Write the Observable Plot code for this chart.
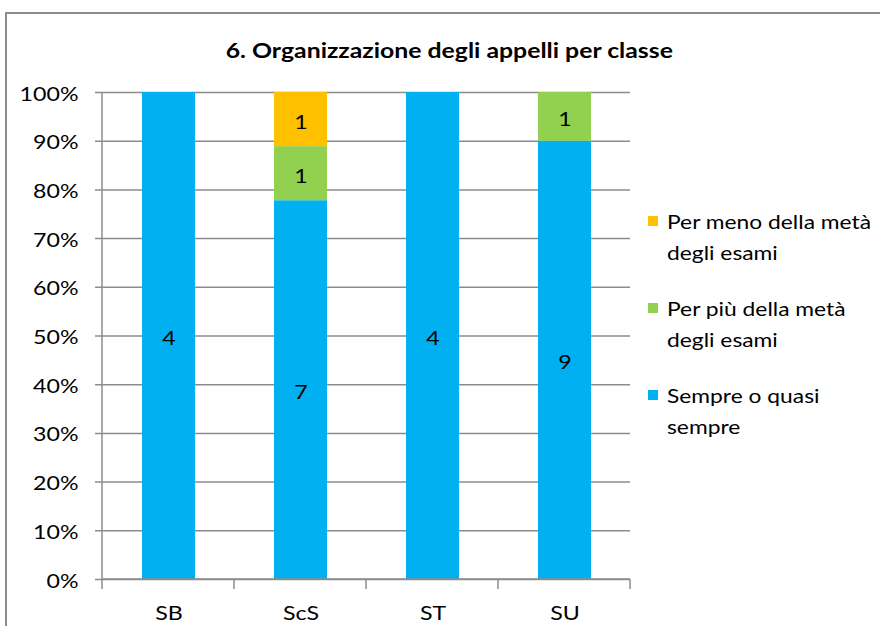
<!DOCTYPE html>
<html><head><meta charset="utf-8">
<script src="https://cdn.jsdelivr.net/npm/d3@7"></script>
<script src="https://cdn.jsdelivr.net/npm/@observablehq/plot@0.6"></script>
<style>
body{margin:0;background:#fff;font-family:Lato,"Open Sans",sans-serif;}
#wrap{position:relative;width:880px;height:626px;overflow:hidden;background:#fff;}
#frame{position:absolute;left:5px;top:12px;width:900px;height:700px;border-left:2px solid #8c8c8c;border-top:2px solid #8c8c8c;}
#title{position:absolute;left:0;width:898px;top:38px;text-align:center;font-weight:bold;font-size:20px;color:#000;}
#title span{display:inline-block;transform:scaleX(1.24);transform-origin:center;}
#legend{position:absolute;left:648px;top:206px;font-size:19px;color:#000;line-height:31px;}
.li{position:relative;padding-left:19px;margin-bottom:25px;white-space:nowrap;}
.li div span{display:inline-block;transform:scaleX(1.2);transform-origin:left;}
.sw{position:absolute;left:0;top:10px;width:10px;height:10px;}
#chart{position:absolute;left:0;top:0;}
</style></head>
<body><div id="wrap"><div id="frame"></div><div id="title"></div><div id="chart"></div><div id="legend"></div></div>
<script>
const title = "6. Organizzazione degli appelli per classe";
const categories = ["SB", "ScS", "ST", "SU"];
const seriesNames = ["Sempre o quasi sempre", "Per più della metà degli esami", "Per meno della metà degli esami"];
const legendLines = [["Sempre o quasi", "sempre"], ["Per più della metà", "degli esami"], ["Per meno della metà", "degli esami"]];
const colors = ["#00B0F0", "#92D050", "#FFC000"];
const sempre = [4, 7, 4, 9];
const piuMeta = [0, 1, 0, 1];
const menoMeta = [0, 1, 0, 0];
const yTicks = [0, 0.1, 0.2, 0.3, 0.4, 0.5, 0.6, 0.7, 0.8, 0.9, 1];

const seriesValues = [sempre, piuMeta, menoMeta];
const rows = [];
seriesNames.forEach((s, si) => categories.forEach((c, ci) => {
  if (seriesValues[si][ci] > 0) rows.push({cat: c, series: s, value: seriesValues[si][ci]});
}));

const ts = document.createElement("span"); ts.textContent = title;
document.getElementById("title").appendChild(ts);

const gray = "#8c8c8c";
const svg = Plot.plot({
  width: 880, height: 626,
  marginLeft: 102, marginRight: 250, marginTop: 92, marginBottom: 47,
  style: {fontFamily: "Lato, 'Open Sans', sans-serif", fontSize: "19px", color: "#000", background: "transparent"},
  x: {domain: categories, paddingInner: 0.6, paddingOuter: 0.3, label: null},
  y: {domain: [0, 1], label: null},
  color: {domain: seriesNames, range: colors},
  marks: [
    Plot.gridY(yTicks, {stroke: gray, strokeOpacity: 1, strokeWidth: 1.5, insetLeft: -7}),
    Plot.axisY(yTicks, {tickFormat: d3.format(".0%"), tickSize: 0, tickPadding: 24, fontSize: 19, label: null, dy: 2}),
    Plot.axisX({tickSize: 0, tickPadding: 27, fontSize: 19, label: null}),
    Plot.barY(rows, Plot.stackY({x: "cat", y: "value", fill: "series", offset: "normalize", order: null})),
    Plot.text(rows, Plot.stackY({x: "cat", y: "value", z: "series", text: "value", offset: "normalize", order: null, fill: "#000", fontSize: 19, dy: 3}))
  ]
});

// category boundary ticks drawn from the library's band scale
const xs = svg.scale("x"), ys = svg.scale("y");
const n = categories.length;
const step = (xs.range[1] - xs.range[0]) / (n - 0.6 + 2 * 0.3);
const y0 = ys.apply(0), y1 = ys.apply(1);
const g = d3.select(svg).append("g").attr("stroke", gray).attr("stroke-width", 1.5);
for (let i = 0; i <= n; i++) {
  const bx = xs.range[0] + i * step;
  g.append("line").attr("x1", bx).attr("x2", bx).attr("y1", i === 0 ? y1 : y0).attr("y2", y0 + 10);
}
g.append("line").attr("x1", xs.range[0]).attr("x2", xs.range[1]).attr("y1", y0).attr("y2", y0);

document.getElementById("chart").appendChild(svg);

// widen glyphs to match the reference's wide text
d3.select(svg).selectAll("text").each(function() {
  const len = this.getComputedTextLength();
  if (len > 0) { this.setAttribute("textLength", len * 1.22); this.setAttribute("lengthAdjust", "spacingAndGlyphs"); }
});

const leg = document.getElementById("legend");
[2, 1, 0].forEach(i => {
  const d = document.createElement("div"); d.className = "li";
  const sw = document.createElement("span"); sw.className = "sw"; sw.style.background = colors[i];
  d.appendChild(sw);
  legendLines[i].forEach(t => { const s = document.createElement("div"); const sp = document.createElement("span"); sp.textContent = t; s.appendChild(sp); d.appendChild(s); });
  leg.appendChild(d);
});
</script></body></html>
